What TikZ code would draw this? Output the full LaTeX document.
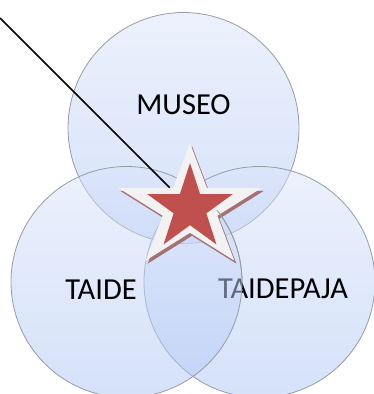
\documentclass[tikz,border=0pt]{standalone}
\usepackage{fontspec}
\setmainfont{Carlito}
\usetikzlibrary{shapes.geometric}
\definecolor{venntop}{RGB}{217,227,249}
\definecolor{vennbottom}{RGB}{172,197,245}
\definecolor{vennline}{RGB}{150,155,165}
\definecolor{starred}{RGB}{192,80,77}
\definecolor{starrim}{RGB}{242,242,242}
\definecolor{starshade}{RGB}{165,112,115}

\begin{document}
\begin{tikzpicture}[x=1pt, y=-1pt, font=\fontsize{30.5}{36}\selectfont,
    venn/.style={circle, minimum size=231pt, inner sep=0pt, top color=venntop,
        bottom color=vennbottom, fill opacity=0.5, draw=vennline, line width=0.8pt},
    vennedge/.style={circle, minimum size=231pt, inner sep=0pt, draw=vennline, line width=0.8pt},
    fivestar/.style={star, star points=5, star point ratio=2.618, inner sep=0pt}]
    \useasboundingbox (0,0) rectangle (373,394);

    \node[venn] (museo) at (183.5,128) {};
    \node[venn] (taidepaja) at (259.5,282) {};
    \node (taidepajatext) at (283,289) {TAIDEPAJA};
    \node[venn] (taide) at (126.5,282) {};
    \node (taidetext) at (101,290) {TAIDE};
    \node (museotext) at (183.5,105) {MUSEO};

    \coordinate (pin) at (0,18);
    \node[fivestar, minimum size=130pt, xscale=1.16, fill=starshade] (shadow) at (192,211) {};
    \node[fivestar, minimum size=130pt, xscale=1.16, fill=starrim] (rimstar) at (190,208) {};
    \node[fivestar, minimum size=90pt, fill=starred] (redstar) at (190,208) {};

    \begin{scope}
        \clip (205,210) rectangle (260,280);
        \node[vennedge] (taideedge) at (taide.center) {};
    \end{scope}

    \draw[line width=1.6pt] (pin) -- (rimstar);
\end{tikzpicture}
\end{document}
